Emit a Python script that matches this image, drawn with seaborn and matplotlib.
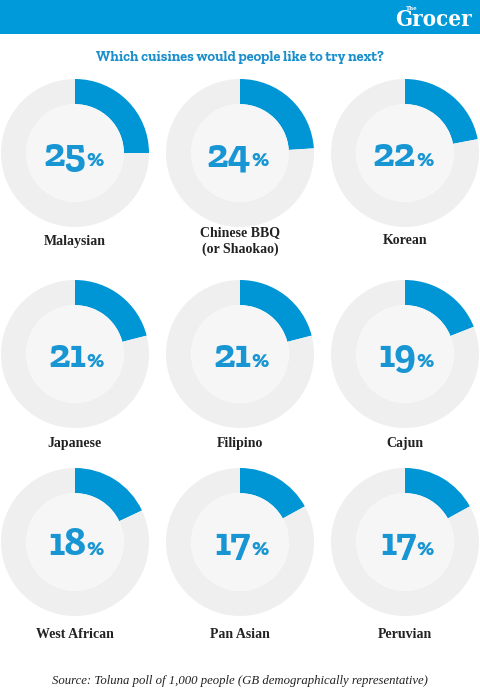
import matplotlib
matplotlib.use('Agg')

import seaborn as sns
import matplotlib.pyplot as plt
from matplotlib.patches import Rectangle, Circle

# data
cuisines = ['Malaysian', 'Chinese BBQ\n(or Shaokao)', 'Korean',
            'Japanese', 'Filipino', 'Cajun',
            'West African', 'Pan Asian', 'Peruvian']
shares = [25, 24, 22, 21, 21, 19, 18, 17, 17]

title = 'Which cuisines would people like to try next?'
source = 'Source: Toluna poll of 1,000 people (GB demographically representative)'

sns.set_theme(style='white')

SLAB = ['Roboto Slab', 'Zilla Slab', 'Arvo', 'DejaVu Serif']
BLUE = '#0096d6'
RING = '#efefef'
INNER = '#f6f6f6'

W, H = 480, 697
fig = plt.figure(figsize=(W / 100, H / 100), dpi=100)
fig.patch.set_facecolor('white')

col_x = [75, 240, 405]
row_y = [153, 354, 542]
label_y = [241, 443, 634]
R = 74

# donuts
for i, pct in enumerate(shares):
    cx, cy = col_x[i % 3], row_y[i // 3]
    ax = fig.add_axes([(cx - R) / W, 1 - (cy + R) / H, 2 * R / W, 2 * R / H])
    ax.pie([pct, 100 - pct], colors=[BLUE, RING], startangle=90,
           counterclock=False, radius=1,
           wedgeprops=dict(width=0.34, linewidth=0))
    ax.add_patch(Circle((0, 0), 0.66, color=INNER, lw=0))
    ax.set_xlim(-1, 1)
    ax.set_ylim(-1, 1)
    ax.axis('off')

# overlay axes in pixel units for header and text
top = fig.add_axes([0, 0, 1, 1])
top.set_xlim(0, W)
top.set_ylim(H, 0)
top.patch.set_alpha(0)
top.axis('off')

top.add_patch(Rectangle((0, 0), W, 34, color='#0099da', lw=0))
top.text(472, 20, 'Grocer', color='white', fontsize=16, fontweight='bold',
         family='DejaVu Serif', fontstretch='condensed', ha='right', va='center')
top.text(412, 8, 'The', color='white', fontsize=4, fontweight='bold',
         family='DejaVu Serif', ha='center', va='center')

top.text(W / 2, 57, title, color='#1b8fcb', fontsize=10.4, fontweight='bold',
         family=SLAB, ha='center', va='center')
top.text(W / 2, 681, source, color='#222222', fontsize=9.2, style='italic',
         family='Liberation Serif', ha='center', va='center')

for i, (name, pct) in enumerate(zip(cuisines, shares)):
    cx, cy = col_x[i % 3], row_y[i // 3]
    top.text(cx + 11, cy + 13, str(pct), color='#1896d3', fontsize=29,
             fontweight='heavy', family=SLAB, ha='right', va='baseline')
    top.text(cx + 11, cy + 13, '%', color='#1896d3', fontsize=17,
             fontweight='heavy', family=SLAB, ha='left', va='baseline')
    top.text(cx, label_y[i // 3], name, color='#222222', fontsize=10,
             fontweight='bold', family='Liberation Serif', ha='center',
             va='center', linespacing=1.3)

plt.savefig('out.png', dpi=100)
